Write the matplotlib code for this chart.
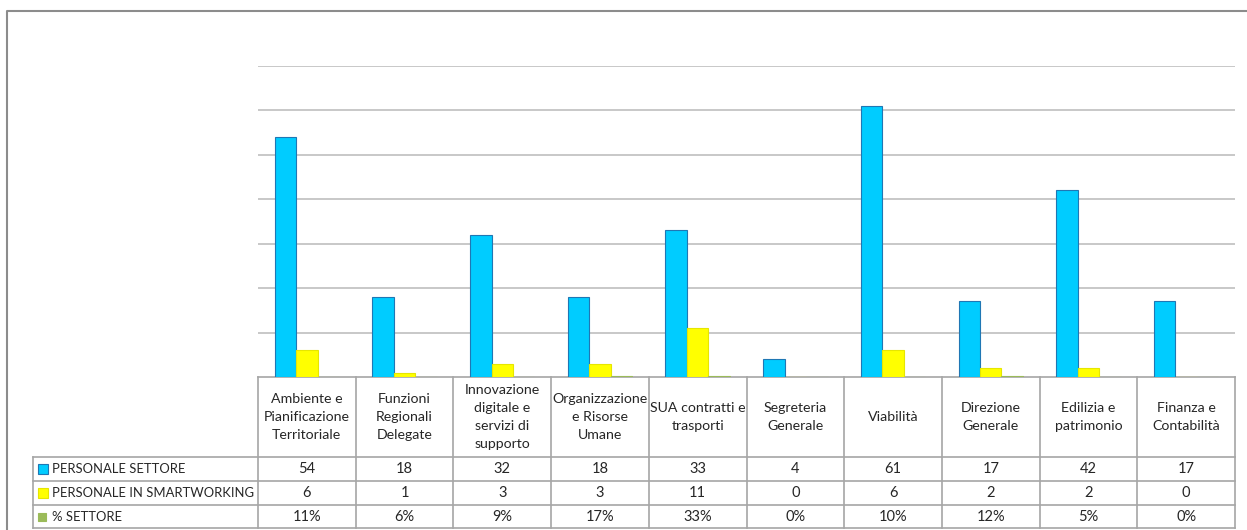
import numpy as np
import matplotlib
matplotlib.use("Agg")
from matplotlib import pyplot as plt
from matplotlib import transforms
from matplotlib.patches import Rectangle

# data
settori = ["Ambiente e\nPianificazione\nTerritoriale", "Funzioni\nRegionali\nDelegate",
           "Innovazione\ndigitale e\nservizi di\nsupporto", "Organizzazione\ne Risorse\nUmane",
           "SUA contratti e\ntrasporti", "Segreteria\nGenerale", "Viabilità",
           "Direzione\nGenerale", "Edilizia e\npatrimonio", "Finanza e\nContabilità"]
personale = [54, 18, 32, 18, 33, 4, 61, 17, 42, 17]
smart = [6, 1, 3, 3, 11, 0, 6, 2, 2, 0]
perc = [0.11, 0.06, 0.09, 0.17, 0.33, 0.0, 0.10, 0.12, 0.05, 0.0]
serie = ["PERSONALE SETTORE", "PERSONALE IN SMARTWORKING", "% SETTORE"]

W, H = 1247, 530
plt.rcParams['font.family'] = ['Lato', 'DejaVu Sans']
fig = plt.figure(figsize=(W/100, H/100), dpi=100)

def fx(px): return px/W
def fy(py): return (H-py)/H

ax = fig.add_axes([fx(258), fy(377), fx(1235)-fx(258), fy(66)-fy(377)])
x = np.arange(len(settori))
bw = 0.22
ax.bar(x-bw, personale, bw, color='#00CCFF', edgecolor='#1F77B4', lw=0.8, zorder=3)
ax.bar(x, smart, bw, color='#FFFF00', edgecolor='#E6E600', lw=0.8, zorder=3)
ax.bar(x+bw, perc, bw, color='#9BBB59', edgecolor='#9BBB59', lw=0.8, zorder=3)
ax.set_xlim(-0.5, len(settori)-0.5)
ax.set_ylim(0, 70)
ax.set_yticks(np.arange(10, 71, 10))
ax.yaxis.grid(True, color='#BFBFBF', lw=1.2)
ax.set_axisbelow(True)
ax.set_xticks([])
ax.tick_params(left=False, labelleft=False)
for s in ax.spines.values():
    s.set_visible(False)

# data table under the chart
tr = transforms.blended_transform_factory(ax.transData, fig.transFigure)
lc = '#A6A6A6'
rows = [457, 481, 505, 528]
ax.plot([-0.5, 9.5], [fy(377)]*2, color=lc, lw=1.2, transform=tr, clip_on=False)
for i in range(len(settori)+1):
    ax.plot([i-0.5]*2, [fy(377), fy(528)], color=lc, lw=1.2, transform=tr, clip_on=False)
for r in rows:
    fig.add_artist(plt.Line2D([fx(33), fx(1235)], [fy(r)]*2, color=lc, lw=1.2))
fig.add_artist(plt.Line2D([fx(33)]*2, [fy(457), fy(528)], color=lc, lw=1.2))

for i, s in enumerate(settori):
    ax.text(i, fy(417), s, transform=tr, ha='center', va='center', fontsize=10.2,
            linespacing=1.6, color='#262626')
valori = [personale, smart, [f"{round(p*100)}%" for p in perc]]
centri = [469, 493, 517]
colori = [('#00CCFF', '#1F77B4'), ('#FFFF00', '#E6E600'), ('#9BBB59', '#9BBB59')]
for k in range(3):
    for i in range(len(settori)):
        ax.text(i, fy(centri[k]), str(valori[k][i]), transform=tr, ha='center',
                va='center', fontsize=10.5, color='#262626')
    fig.text(fx(52), fy(centri[k]), serie[k], ha='left', va='center', fontsize=9.4,
             color='#262626')
    sz = 10 if k < 2 else 8
    fig.add_artist(Rectangle((fx(38), fy(centri[k]+sz/2)), fx(sz), sz/H,
                             facecolor=colori[k][0], edgecolor=colori[k][1], lw=0.8))

# outer frame
fig.add_artist(plt.Line2D([fx(7), fx(7), fx(W)], [0, fy(11), fy(11)], color='#8C8C8C', lw=1.5))

fig.savefig("out.png", dpi=100)
